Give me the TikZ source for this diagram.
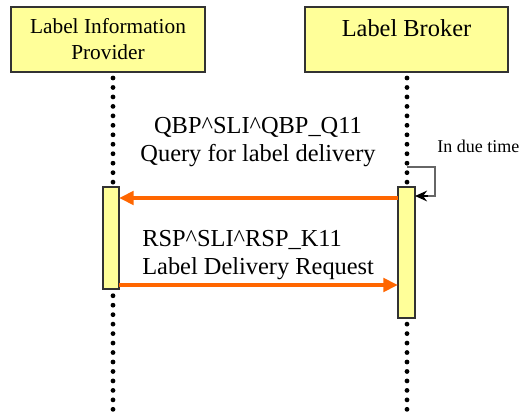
\documentclass[tikz,border=0pt]{standalone}
\usepackage{fontspec}
\setmainfont{Liberation Serif}
\usetikzlibrary{arrows.meta}
\definecolor{boxyellow}{HTML}{FFFF99}
\definecolor{msgorange}{HTML}{FF6600}
\definecolor{loopgray}{HTML}{666666}
\tikzset{
  headbox/.style={draw=black!80, fill=boxyellow, line width=0.8pt, inner sep=0pt},
  actbox/.style={draw=black!80, fill=boxyellow, line width=0.8pt},
  lifeline/.style={line width=3.6pt, line cap=round, dash pattern=on 0pt off 7.1pt},
  msg/.style={draw=msgorange, line width=3pt, -{Triangle[length=11pt,width=10pt]}},
  msgtext/.style={font=\fontsize{18.3}{21}\selectfont, align=left, inner sep=0pt},
}
\begin{document}
\begin{tikzpicture}[x=0.75pt,y=-0.75pt]
\useasboundingbox (0,0) rectangle (521,417);
% header boxes
\draw[headbox] (11,7) rectangle (205,72);
\node[font=\fontsize{16}{19.5}\selectfont, align=center] (lip) at (108,39) {Label Information\\Provider};
\draw[headbox] (305,7) rectangle (508,72);
\node[font=\fontsize{18.3}{21}\selectfont] (lb) at (406.5,28) {Label Broker};
% lifelines
\coordinate (l1top) at (113,78);
\coordinate (l1bot) at (113,416);
\coordinate (l2top) at (407,78);
\coordinate (l2bot) at (407,416);
\draw[lifeline] (l1top) -- (l1bot);
\draw[lifeline] (l2top) -- (l2bot);
% activations
\draw[actbox] (103,187) rectangle (119,289);
\draw[actbox] (398,187) rectangle (415,318);
\coordinate (a1r1) at (119,198);
\coordinate (a2l1) at (398,198);
\coordinate (a1r2) at (119,285);
\coordinate (a2l2) at (398,285);
% self loop
\coordinate (ls) at (407,167);
\coordinate (le) at (415,196);
\draw[loopgray, line width=1.5pt] (ls) -- (435,167) -- (435,196) -- (424,196);
\draw[black, line width=1.5pt, -{Stealth[length=9pt,width=8pt]}] (428,196) -- (le);
\node[font=\fontsize{13.5}{16}\selectfont, anchor=west, inner sep=0pt] (due) at (437,146) {In due time};
% messages
\draw[msg] (a2l1) -- (a1r1);
\draw[msg] (a1r2) -- (a2l2);
\node[msgtext, align=center] (m1) at (258,142) {QBP\textasciicircum SLI\textasciicircum QBP\_Q11\\Query for label delivery};
\node[msgtext, anchor=west] (m2) at (142,255) {RSP\textasciicircum SLI\textasciicircum RSP\_K11\\Label Delivery Request};
\end{tikzpicture}
\end{document}
